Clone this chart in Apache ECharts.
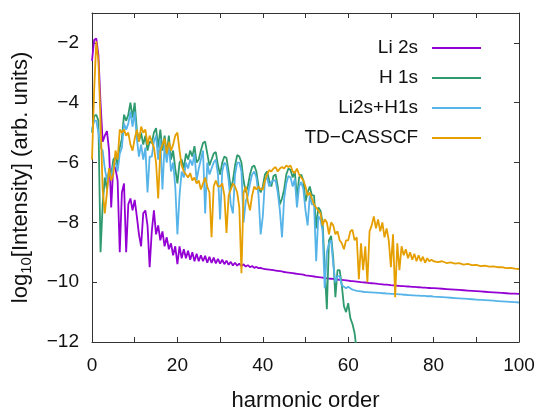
<!DOCTYPE html>
<html>
<head>
<meta charset="utf-8">
<title>HHG spectra</title>
<script src="https://cdn.jsdelivr.net/npm/echarts@6/dist/echarts.min.js"></script>
<style>
html, body { margin: 0; padding: 0; background: #fff; }
#report_chart { width: 541px; height: 410px; }
</style>
</head>
<body>
<div id="report_chart"></div>
<script>
// harmonic order grid (0.5 steps up to 80, then 1)
var harmonicOrder = [
	0, 0.5, 1, 1.5, 2, 2.5, 3, 3.5, 4, 4.5,
	5, 5.5, 6, 6.5, 7, 7.5, 8, 8.5, 9, 9.5,
	10, 10.5, 11, 11.5, 12, 12.5, 13, 13.5, 14, 14.5,
	15, 15.5, 16, 16.5, 17, 17.5, 18, 18.5, 19, 19.5,
	20, 20.5, 21, 21.5, 22, 22.5, 23, 23.5, 24, 24.5,
	25, 25.5, 26, 26.5, 27, 27.5, 28, 28.5, 29, 29.5,
	30, 30.5, 31, 31.5, 32, 32.5, 33, 33.5, 34, 34.5,
	35, 35.5, 36, 36.5, 37, 37.5, 38, 38.5, 39, 39.5,
	40, 40.5, 41, 41.5, 42, 42.5, 43, 43.5, 44, 44.5,
	45, 45.5, 46, 46.5, 47, 47.5, 48, 48.5, 49, 49.5,
	50, 50.5, 51, 51.5, 52, 52.5, 53, 53.5, 54, 54.5,
	55, 55.5, 56, 56.5, 57, 57.5, 58, 58.5, 59, 59.5,
	60, 60.5, 61, 61.5, 62, 62.5, 63, 63.5, 64, 64.5,
	65, 65.5, 66, 66.5, 67, 67.5, 68, 68.5, 69, 69.5,
	70, 70.5, 71, 71.5, 72, 72.5, 73, 73.5, 74, 74.5,
	75, 75.5, 76, 76.5, 77, 77.5, 78, 78.5, 79, 79.5,
	80,
	81, 82, 83, 84, 85, 86, 87, 88, 89, 90,
	91, 92, 93, 94, 95, 96, 97, 98, 99, 100
];

var li2s = [
	-2.6, -1.9, -1.85, -2.4, -4.0, -5.3, -5.1, -4.95, -5.6, -7.5,
	-6.1, -6.2, -6.6, -9.0, -7.0, -6.7, -9.0, -7.4, -7.2, -7.6,
	-7.25, -7.8, -8.4, -8.8, -7.7, -7.6, -8.1, -9.5, -8.3, -7.6,
	-8.4, -8.1, -8.6, -8.3, -8.8, -8.5, -8.9, -8.7, -9.1, -8.8,
	-9.4, -8.8, -9.2, -8.9, -9.2, -8.95, -9.25, -9.0, -9.3, -9.05,
	-9.3, -9.1, -9.3, -9.12, -9.35, -9.15, -9.36, -9.18, -9.37, -9.22,
	-9.38, -9.25, -9.4, -9.28, -9.42, -9.32, -9.44, -9.35, -9.45, -9.38,
	-9.46, -9.4, -9.48, -9.43, -9.5, -9.46, -9.52, -9.49, -9.53, -9.52,
	-9.55, -9.56, -9.57, -9.58, -9.59, -9.6, -9.61, -9.62, -9.63, -9.64,
	-9.66, -9.67, -9.68, -9.69, -9.7, -9.71, -9.72, -9.73, -9.74, -9.75,
	-9.77, -9.78, -9.79, -9.8, -9.81, -9.82, -9.83, -9.84, -9.85, -9.86,
	-9.87, -9.88, -9.885, -9.89, -9.9, -9.91, -9.92, -9.925, -9.93, -9.94,
	-9.95, -9.96, -9.965, -9.97, -9.98, -9.99, -10.0, -10.005, -10.01, -10.02,
	-10.03, -10.035, -10.04, -10.05, -10.06, -10.065, -10.07, -10.08, -10.085, -10.09,
	-10.1, -10.105, -10.11, -10.12, -10.125, -10.13, -10.135, -10.14, -10.145, -10.15,
	-10.155, -10.16, -10.165, -10.17, -10.175, -10.18, -10.185, -10.19, -10.195, -10.2,
	-10.2,
	-10.21, -10.22, -10.23, -10.24, -10.25, -10.26, -10.27, -10.28, -10.29, -10.3,
	-10.31, -10.32, -10.33, -10.34, -10.35, -10.36, -10.37, -10.38, -10.385, -10.39
];

// H 1s drops below the frame after ~62
var h1s = [
	-5.0, -4.45, -4.4, -4.6, -9.0, -7.4, -6.5, -6.9, -6.2, -6.4,
	-5.9, -5.8, -6.1, -5.5, -5.2, -4.4, -4.6, -4.4, -4.0, -4.5,
	-4.0, -4.9, -5.3, -5.0, -5.4, -5.1, -5.6, -5.3, -5.35, -5.0,
	-4.85, -5.5, -4.9, -5.6, -5.1, -5.7, -5.1, -5.9, -5.6, -6.2,
	-6.7, -6.0, -5.9, -6.2, -5.7, -5.9, -5.6, -5.8, -5.45, -6.0,
	-5.9, -5.6, -5.35, -5.3, -5.7, -6.1, -5.9, -5.7, -5.65, -6.1,
	-6.4, -6.0, -5.8, -5.85, -6.3, -6.9, -6.6, -6.1, -5.75, -5.8,
	-6.0, -6.6, -7.0, -6.8, -6.4, -6.15, -6.1, -6.3, -6.8, -7.0,
	-6.8, -6.4, -6.3, -6.6, -6.8, -6.45, -6.4, -6.8, -7.4, -7.2,
	-6.9, -6.4, -6.2, -6.25, -6.5, -6.3, -7.2, -6.5, -6.4, -6.6,
	-7.3, -7.0, -6.8, -7.1, -7.1, -8.2, -7.5, -7.6, -8.0, -9.5,
	-10.9, -8.6, -8.45, -9.2, -10.5, -9.6, -9.6, -10.1, -10.8, -11.0,
	-10.7, -11.2, -11.4, -11.7, -12.3, -12.8
];

var li2sH1s = [
	-4.9, -4.6, -4.6, -5.0, -5.5, -5.6, -6.2, -6.6, -6.3, -6.5,
	-6.1, -6.0, -6.3, -5.7, -5.5, -4.7, -4.9, -4.7, -4.3, -4.8,
	-4.3, -5.2, -5.8, -5.4, -5.9, -5.5, -7.0, -5.8, -5.8, -5.3,
	-5.1, -5.9, -5.2, -6.9, -5.4, -6.0, -5.4, -6.3, -6.0, -6.8,
	-8.4, -7.1, -6.3, -6.5, -6.0, -6.2, -5.9, -6.1, -5.7, -6.6,
	-6.2, -5.9, -5.6, -7.7, -6.0, -6.4, -6.2, -6.0, -5.9, -6.4,
	-7.9, -6.3, -6.0, -6.1, -6.6, -7.4, -7.7, -6.4, -6.0, -6.0,
	-6.3, -8.0, -7.3, -7.1, -6.7, -6.4, -6.3, -6.5, -7.1, -8.4,
	-7.8, -6.6, -6.5, -6.8, -6.65, -6.6, -6.6, -7.0, -7.6, -8.5,
	-7.2, -6.7, -6.45, -6.5, -6.8, -6.55, -7.5, -6.8, -6.65, -6.9,
	-7.6, -8.1, -7.1, -7.4, -7.4, -9.3, -7.8, -7.9, -8.3, -10.2,
	-9.0, -8.7, -8.6, -9.4, -10.0, -9.8, -9.8, -10.1, -10.15, -10.2,
	-10.15, -10.2, -10.25, -10.27, -10.29, -10.3, -10.31, -10.32, -10.33, -10.33,
	-10.34, -10.34, -10.35, -10.35, -10.36, -10.36, -10.37, -10.37, -10.38, -10.38,
	-10.39, -10.39, -10.4, -10.4, -10.41, -10.41, -10.42, -10.42, -10.43, -10.43,
	-10.44, -10.44, -10.45, -10.45, -10.46, -10.46, -10.46, -10.47, -10.47, -10.47,
	-10.48,
	-10.49, -10.5, -10.51, -10.52, -10.53, -10.54, -10.55, -10.56, -10.57, -10.58,
	-10.59, -10.6, -10.61, -10.62, -10.63, -10.64, -10.65, -10.66, -10.67, -10.68
];

var tdCasscf = [
	-5.9, -3.6, -1.95, -2.6, -4.6, -6.9, -7.7, -7.0, -6.2, -6.6,
	-6.4, -5.6, -5.9, -4.9, -5.0, -4.9, -5.1, -5.0, -5.4, -5.6,
	-5.2, -4.9, -5.3, -4.8, -5.0, -4.9, -5.4, -5.1, -5.3, -5.5,
	-6.0, -7.2, -5.6, -5.4, -5.2, -5.7, -5.3, -5.6, -5.4, -5.1,
	-5.0, -5.6, -6.1, -6.3, -6.4, -6.5, -6.35, -6.6, -6.5, -6.7,
	-6.6, -6.9, -6.7, -6.5, -6.8, -7.0, -8.5, -6.8, -6.6, -6.8,
	-6.8, -6.7, -7.1, -8.35, -7.1, -6.9, -6.7, -6.8, -7.0, -7.5,
	-9.7, -7.0, -6.8, -7.3, -7.6, -7.1, -6.8, -6.9, -6.8, -6.9,
	-6.9, -6.6, -6.4, -6.25, -6.3, -6.2, -6.15, -6.3, -6.2, -6.15,
	-6.2, -6.1, -6.15, -6.1, -6.3, -6.35, -6.2, -6.4, -6.5, -6.6,
	-6.8, -7.1, -7.0, -7.2, -7.4, -7.5, -7.6, -7.7, -8.1, -7.9,
	-8.0, -8.4, -8.0, -8.1, -8.4, -8.3, -8.6, -8.7, -8.9, -8.6,
	-8.6, -8.3, -8.25, -8.6, -8.5, -9.9, -8.7, -9.6, -8.8, -10.0,
	-8.3, -8.1, -7.8, -8.2, -7.9, -8.3, -8.0, -8.5, -8.2, -8.6,
	-9.5, -8.4, -10.5, -8.7, -9.6, -8.8, -9.1, -8.9, -9.2, -9.0,
	-9.25, -9.05, -9.3, -9.1, -9.3, -9.15, -9.35, -9.2, -9.3, -9.25,
	-9.3,
	-9.33, -9.3, -9.36, -9.34, -9.38, -9.36, -9.41, -9.39, -9.43, -9.42,
	-9.46, -9.45, -9.48, -9.47, -9.5, -9.5, -9.53, -9.52, -9.55, -9.56
];

var seriesNames = ['Li 2s', 'H 1s', 'Li2s+H1s', 'TD\u2212CASSCF'];
var seriesValues = [li2s, h1s, li2sH1s, tdCasscf];
var seriesColors = ['#9400d3', '#2e9a6e', '#56b4e9', '#e69f00'];

var fontName = 'Liberation Sans, Arial, sans-serif';
var frameColor = '#333';

function pairs(values) {
	var out = [];
	for (var i = 0; i < values.length; i++) {
		out.push([harmonicOrder[i], values[i]]);
	}
	return out;
}

function minusSign(v) {
	return String(v).replace('-', '\u2212');
}

function initChart() {
	var series = [];
	for (var i = 0; i < seriesNames.length; i++) {
		series.push({
			name : seriesNames[i],
			type : 'line',
			symbol : 'none',
			showSymbol : false,
			clip : true,
			data : pairs(seriesValues[i]),
			lineStyle : {
				color : seriesColors[i],
				width : 1.8
			},
			itemStyle : {
				color : seriesColors[i]
			}
		});
	}

	var frameLine = {
		show : true,
		onZero : false,
		lineStyle : { color : frameColor, width : 1 }
	};
	var frameTick = {
		show : true,
		inside : true,
		length : 5,
		lineStyle : { color : frameColor, width : 1 }
	};

	var option = {
		animation : false,
		backgroundColor : '#fff',
		grid : {
			left : 92,
			right : 22,
			top : 13,
			bottom : 68,
			containLabel : false,
			outerBoundsMode : 'none'
		},
		legend : {
			orient : 'vertical',
			align : 'right',
			right : 55,
			top : 33,
			icon : 'rect',
			itemWidth : 49,
			itemHeight : 2,
			itemGap : 10,
			data : seriesNames,
			textStyle : {
				fontFamily : fontName,
				fontSize : 19,
				lineHeight : 20,
				color : '#111',
				padding : [0, 9, 0, 0]
			}
		},
		xAxis : [ {
			type : 'value',
			position : 'bottom',
			min : 0,
			max : 100,
			interval : 10,
			axisLine : frameLine,
			axisTick : frameTick,
			splitLine : { show : false },
			axisLabel : {
				margin : 14,
				fontFamily : fontName,
				fontSize : 19,
				color : '#111',
				formatter : function(v) {
					return v % 20 === 0 ? String(v) : '';
				}
			},
			name : 'harmonic order',
			nameLocation : 'middle',
			nameGap : 48,
			nameTextStyle : {
				fontFamily : fontName,
				fontSize : 22,
				color : '#111'
			}
		}, {
			type : 'value',
			position : 'top',
			min : 0,
			max : 100,
			interval : 10,
			axisLine : frameLine,
			axisTick : frameTick,
			splitLine : { show : false },
			axisLabel : { show : false }
		} ],
		yAxis : [ {
			type : 'value',
			position : 'left',
			min : -12,
			max : -1,
			interval : 2,
			axisLine : frameLine,
			axisTick : frameTick,
			splitLine : { show : false },
			axisLabel : {
				margin : 13,
				fontFamily : fontName,
				fontSize : 19,
				color : '#111',
				formatter : function(v) {
					return v === -1 ? '' : minusSign(v);
				}
			},
			name : '{a|log}{sub|10}{a|[Intensity] (arb. units)}',
			nameLocation : 'middle',
			nameRotate : 90,
			nameGap : 58,
			nameTextStyle : {
				fontFamily : fontName,
				fontSize : 22,
				color : '#111',
				rich : {
					a : { fontFamily : fontName, fontSize : 22, color : '#111', lineHeight : 26 },
					sub : { fontFamily : fontName, fontSize : 15, color : '#111', lineHeight : 10, verticalAlign : 'bottom' }
				}
			}
		}, {
			type : 'value',
			position : 'right',
			min : -12,
			max : -1,
			interval : 2,
			axisLine : frameLine,
			axisTick : frameTick,
			splitLine : { show : false },
			axisLabel : { show : false }
		} ],
		series : series
	};

	var myChart = echarts.init(document.getElementById('report_chart'));
	myChart.setOption(option);
	window.myChart = myChart;
}

initChart();
</script>
</body>
</html>
